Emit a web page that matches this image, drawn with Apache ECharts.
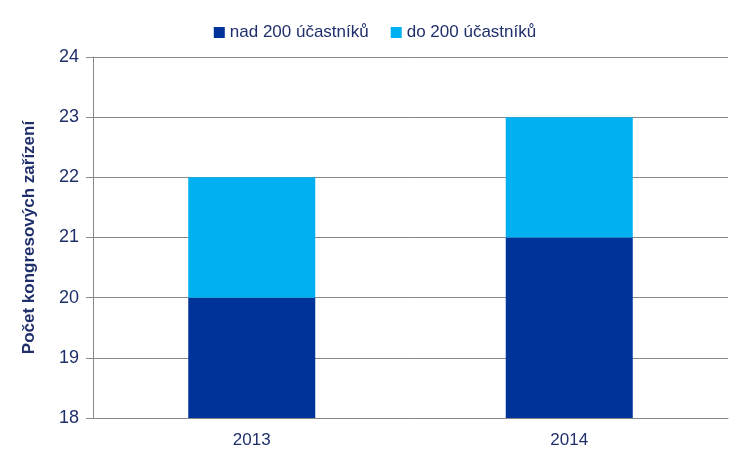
<!DOCTYPE html>
<html lang="cs">
<head>
    <meta charset="UTF-8">
    <script src="https://cdn.jsdelivr.net/npm/echarts@6/dist/echarts.min.js"></script>
    <title>Počet kongresových zařízení</title>
    <style>
        html, body { margin: 0; padding: 0; background: #fff; }
        #main { width: 750px; height: 469px; }
    </style>
</head>
<body>
    <div id="main"></div>
    <script>
        var years = ['2013', '2014'];
        var nad200 = [20, 21];
        var do200 = [2, 2];
        var seriesNames = ['nad 200 účastníků', 'do 200 účastníků'];

        var font = '"Liberation Sans Narrow", "Arial Narrow", "Liberation Sans", Arial, sans-serif';
        var textColor = '#1F2F6B';

        var chart = echarts.init(document.getElementById('main'));

        var option = {
            animation: false,
            textStyle: { fontFamily: font },
            legend: {
                top: 19,
                left: 'center',
                itemWidth: 11,
                itemHeight: 11,
                itemGap: 22,
                icon: 'rect',
                textStyle: { color: textColor, fontSize: 17, fontFamily: font },
                data: seriesNames
            },
            grid: { left: 93, right: 22, top: 57, bottom: 51 },
            xAxis: {
                type: 'category',
                data: years,
                axisLine: { lineStyle: { color: '#888' } },
                axisTick: { show: false },
                axisLabel: { color: textColor, fontSize: 17, margin: 14, fontFamily: font }
            },
            yAxis: {
                type: 'value',
                min: 18,
                max: 24,
                interval: 1,
                name: 'Počet kongresových zařízení',
                nameLocation: 'middle',
                nameGap: 55,
                nameTextStyle: { color: textColor, fontSize: 17, fontWeight: 'bold', fontFamily: font },
                axisLine: { show: true, lineStyle: { color: '#888' } },
                axisTick: { show: true, length: 7, lineStyle: { color: '#888' } },
                axisLabel: { color: textColor, fontSize: 18, margin: 14, fontFamily: font },
                splitLine: { lineStyle: { color: '#888' } }
            },
            series: [
                {
                    name: seriesNames[0],
                    type: 'bar',
                    stack: 'total',
                    barWidth: 127,
                    itemStyle: { color: '#003399' },
                    data: nad200
                },
                {
                    name: seriesNames[1],
                    type: 'bar',
                    stack: 'total',
                    barWidth: 127,
                    itemStyle: { color: '#00B0F0' },
                    data: do200
                }
            ]
        };

        chart.setOption(option);
    </script>
</body>
</html>
